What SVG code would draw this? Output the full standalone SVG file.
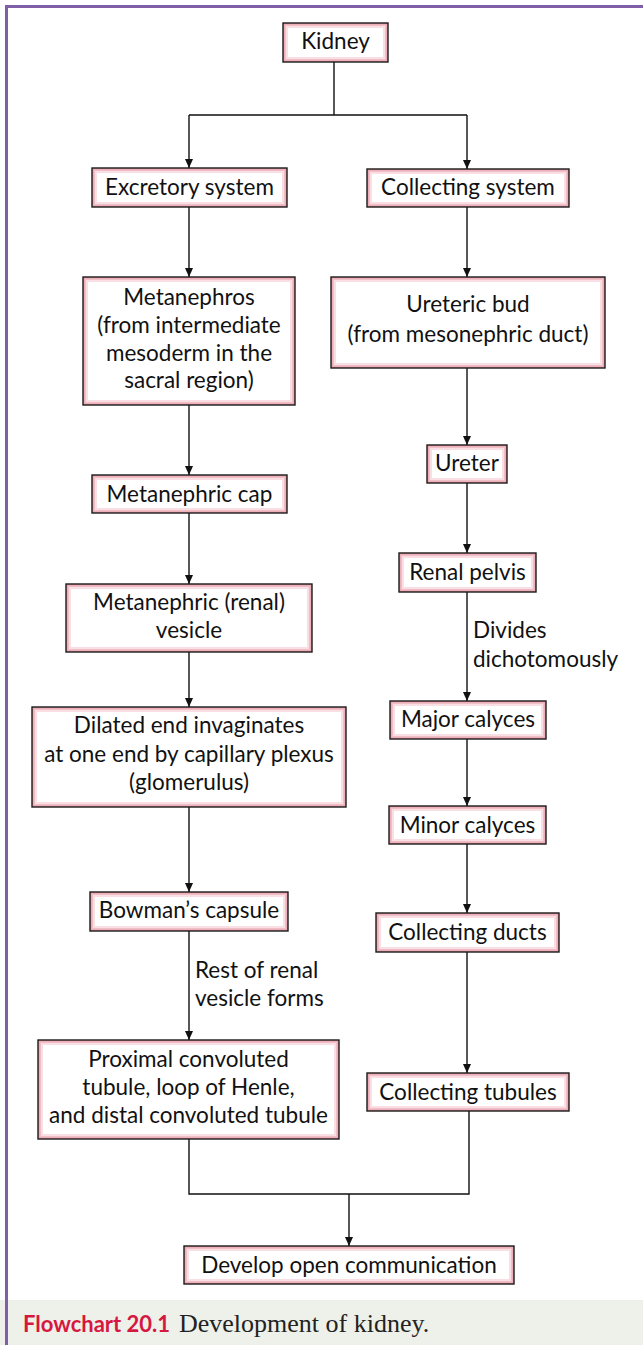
<svg xmlns="http://www.w3.org/2000/svg" width="643" height="1345" viewBox="0 0 643 1345">
<style>
.p1{fill:#e9a1ad}
.p2{fill:#f2bec6}
.p3{fill:#f9dfe3}
.w{fill:#ffffff}
.edge{fill:none;stroke:#1a1a1a;stroke-width:1.4}
.t{font-family:Lato,"Open Sans",sans-serif;font-size:22.5px;fill:#111;text-anchor:middle}
.lbl{font-family:Lato,"Open Sans",sans-serif;font-size:22.5px;fill:#111}
.c{fill:none;stroke:#111;stroke-width:1.4}
</style>
<defs>
<marker id="arr" markerWidth="10" markerHeight="10" refX="9" refY="5" orient="auto" markerUnits="userSpaceOnUse">
<path d="M0,1 L9,5 L0,9 Z" fill="#111"/>
</marker>
</defs>
<rect x="0" y="0" width="643" height="1345" fill="#ffffff"/>
<rect x="0" y="1300" width="643" height="45" fill="#eef0ea"/>
<path d="M6.5,1345 V6.5 H643" fill="none" stroke="#7e5fa8" stroke-width="3"/>

<g id="connectors">
<path class="c" d="M334,62 V115 M189,115 H467"/>
<path class="c" d="M189,115 V168" marker-end="url(#arr)"/>
<path class="c" d="M467,115 V169" marker-end="url(#arr)"/>
<path class="c" d="M189,207 V277" marker-end="url(#arr)"/>
<path class="c" d="M467,207 V277" marker-end="url(#arr)"/>
<path class="c" d="M189,405 V475" marker-end="url(#arr)"/>
<path class="c" d="M189,513 V584" marker-end="url(#arr)"/>
<path class="c" d="M189,652 V707" marker-end="url(#arr)"/>
<path class="c" d="M189,807 V892" marker-end="url(#arr)"/>
<path class="c" d="M189,931 V1040" marker-end="url(#arr)"/>
<path class="c" d="M467,368 V445" marker-end="url(#arr)"/>
<path class="c" d="M467,483 V553" marker-end="url(#arr)"/>
<path class="c" d="M467,592 V701" marker-end="url(#arr)"/>
<path class="c" d="M467,739 V806" marker-end="url(#arr)"/>
<path class="c" d="M467,844 V913" marker-end="url(#arr)"/>
<path class="c" d="M467,952 V1073" marker-end="url(#arr)"/>
<path class="c" d="M189,1139 V1194 H469 V1111"/>
<path class="c" d="M349,1194 V1246" marker-end="url(#arr)"/>
<text class="lbl" x="473" y="638">Divides</text>
<text class="lbl" x="473" y="667">dichotomously</text>
<text class="lbl" x="195" y="978">Rest of renal</text>
<text class="lbl" x="195" y="1006">vesicle forms</text>
</g>

<g id="kidney"><rect class="p1" x="283" y="23" width="105" height="39"/><rect class="p2" x="284.5" y="24.5" width="102" height="36"/><rect class="p3" x="286" y="26" width="99" height="33"/><rect class="w" x="288" y="28" width="95" height="29"/><rect class="edge" x="283" y="23" width="105" height="39"/><text class="t" x="335.5" y="49">Kidney</text></g>
<g id="excretory"><rect class="p1" x="92" y="168" width="195" height="39"/><rect class="p2" x="93.5" y="169.5" width="192" height="36"/><rect class="p3" x="95" y="171" width="189" height="33"/><rect class="w" x="97" y="173" width="185" height="29"/><rect class="edge" x="92" y="168" width="195" height="39"/><text class="t" x="189.5" y="195">Excretory system</text></g>
<g id="collecting"><rect class="p1" x="367" y="169" width="202" height="38"/><rect class="p2" x="368.5" y="170.5" width="199" height="35"/><rect class="p3" x="370" y="172" width="196" height="32"/><rect class="w" x="372" y="174" width="192" height="28"/><rect class="edge" x="367" y="169" width="202" height="38"/><text class="t" x="468" y="195">Collecting system</text></g>
<g id="metanephros"><rect class="p1" x="83" y="277" width="212" height="128"/><rect class="p2" x="84.5" y="278.5" width="209" height="125"/><rect class="p3" x="86" y="280" width="206" height="122"/><rect class="w" x="88" y="282" width="202" height="118"/><rect class="edge" x="83" y="277" width="212" height="128"/><text class="t" x="189" y="305">Metanephros</text><text class="t" x="189" y="333">(from intermediate</text><text class="t" x="189" y="361">mesoderm in the</text><text class="t" x="189" y="388">sacral region)</text></g>
<g id="ureteric"><rect class="p1" x="331" y="277" width="274" height="91"/><rect class="p2" x="332.5" y="278.5" width="271" height="88"/><rect class="p3" x="334" y="280" width="268" height="85"/><rect class="w" x="336" y="282" width="264" height="81"/><rect class="edge" x="331" y="277" width="274" height="91"/><text class="t" x="468" y="312">Ureteric bud</text><text class="t" x="468" y="342">(from mesonephric duct)</text></g>
<g id="ureter"><rect class="p1" x="427" y="445" width="80" height="38"/><rect class="p2" x="428.5" y="446.5" width="77" height="35"/><rect class="p3" x="430" y="448" width="74" height="32"/><rect class="w" x="432" y="450" width="70" height="28"/><rect class="edge" x="427" y="445" width="80" height="38"/><text class="t" x="467" y="471">Ureter</text></g>
<g id="pelvis"><rect class="p1" x="399" y="553" width="137" height="39"/><rect class="p2" x="400.5" y="554.5" width="134" height="36"/><rect class="p3" x="402" y="556" width="131" height="33"/><rect class="w" x="404" y="558" width="127" height="29"/><rect class="edge" x="399" y="553" width="137" height="39"/><text class="t" x="467.5" y="580">Renal pelvis</text></g>
<g id="major"><rect class="p1" x="390" y="701" width="156" height="38"/><rect class="p2" x="391.5" y="702.5" width="153" height="35"/><rect class="p3" x="393" y="704" width="150" height="32"/><rect class="w" x="395" y="706" width="146" height="28"/><rect class="edge" x="390" y="701" width="156" height="38"/><text class="t" x="468" y="727">Major calyces</text></g>
<g id="minor"><rect class="p1" x="389" y="806" width="157" height="38"/><rect class="p2" x="390.5" y="807.5" width="154" height="35"/><rect class="p3" x="392" y="809" width="151" height="32"/><rect class="w" x="394" y="811" width="147" height="28"/><rect class="edge" x="389" y="806" width="157" height="38"/><text class="t" x="467.5" y="833">Minor calyces</text></g>
<g id="ducts"><rect class="p1" x="376" y="913" width="183" height="39"/><rect class="p2" x="377.5" y="914.5" width="180" height="36"/><rect class="p3" x="379" y="916" width="177" height="33"/><rect class="w" x="381" y="918" width="173" height="29"/><rect class="edge" x="376" y="913" width="183" height="39"/><text class="t" x="467.5" y="940">Collecting ducts</text></g>
<g id="tubules"><rect class="p1" x="367" y="1073" width="202" height="38"/><rect class="p2" x="368.5" y="1074.5" width="199" height="35"/><rect class="p3" x="370" y="1076" width="196" height="32"/><rect class="w" x="372" y="1078" width="192" height="28"/><rect class="edge" x="367" y="1073" width="202" height="38"/><text class="t" x="468" y="1100">Collecting tubules</text></g>
<g id="cap"><rect class="p1" x="92" y="475" width="195" height="38"/><rect class="p2" x="93.5" y="476.5" width="192" height="35"/><rect class="p3" x="95" y="478" width="189" height="32"/><rect class="w" x="97" y="480" width="185" height="28"/><rect class="edge" x="92" y="475" width="195" height="38"/><text class="t" x="189.5" y="502">Metanephric cap</text></g>
<g id="vesicle"><rect class="p1" x="66" y="584" width="246" height="68"/><rect class="p2" x="67.5" y="585.5" width="243" height="65"/><rect class="p3" x="69" y="587" width="240" height="62"/><rect class="w" x="71" y="589" width="236" height="58"/><rect class="edge" x="66" y="584" width="246" height="68"/><text class="t" x="189" y="610">Metanephric (renal)</text><text class="t" x="189" y="638">vesicle</text></g>
<g id="dilated"><rect class="p1" x="32" y="707" width="314" height="100"/><rect class="p2" x="33.5" y="708.5" width="311" height="97"/><rect class="p3" x="35" y="710" width="308" height="94"/><rect class="w" x="37" y="712" width="304" height="90"/><rect class="edge" x="32" y="707" width="314" height="100"/><text class="t" x="189" y="733">Dilated end invaginates</text><text class="t" x="189" y="762">at one end by capillary plexus</text><text class="t" x="189" y="790">(glomerulus)</text></g>
<g id="bowman"><rect class="p1" x="90" y="892" width="198" height="39"/><rect class="p2" x="91.5" y="893.5" width="195" height="36"/><rect class="p3" x="93" y="895" width="192" height="33"/><rect class="w" x="95" y="897" width="188" height="29"/><rect class="edge" x="90" y="892" width="198" height="39"/><text class="t" x="189" y="918">Bowman’s capsule</text></g>
<g id="proximal"><rect class="p1" x="38" y="1040" width="301" height="99"/><rect class="p2" x="39.5" y="1041.5" width="298" height="96"/><rect class="p3" x="41" y="1043" width="295" height="93"/><rect class="w" x="43" y="1045" width="291" height="89"/><rect class="edge" x="38" y="1040" width="301" height="99"/><text class="t" x="188.5" y="1067">Proximal convoluted</text><text class="t" x="188.5" y="1095">tubule, loop of Henle,</text><text class="t" x="188.5" y="1123">and distal convoluted tubule</text></g>
<g id="develop"><rect class="p1" x="184" y="1246" width="330" height="38"/><rect class="p2" x="185.5" y="1247.5" width="327" height="35"/><rect class="p3" x="187" y="1249" width="324" height="32"/><rect class="w" x="189" y="1251" width="320" height="28"/><rect class="edge" x="184" y="1246" width="330" height="38"/><text class="t" x="349" y="1273">Develop open communication</text></g>

<g id="caption">
<text x="23" y="1332" font-family="Lato,'Open Sans',sans-serif" font-weight="bold" font-size="22" fill="#d6173f">Flowchart 20.1</text>
<text x="179" y="1332" font-family="'Liberation Serif',serif" font-size="26" fill="#222">Development of kidney.</text>
</g>
</svg>
